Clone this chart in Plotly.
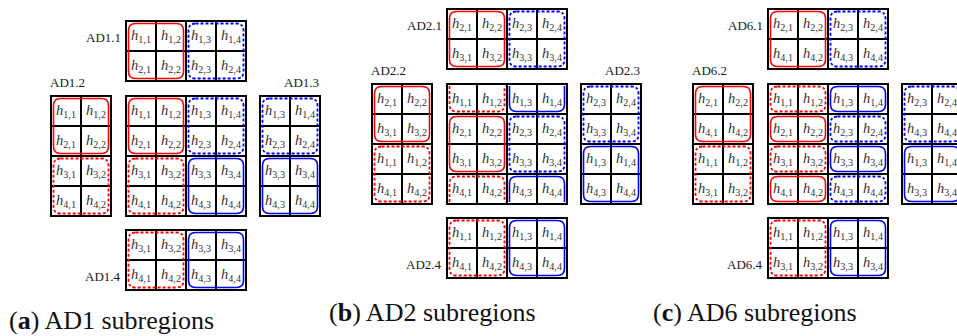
import plotly.graph_objects as go

# ---- data -------------------------------------------------------------
PANEL_NAMES = ["AD1", "AD2", "AD6"]
PANEL_LETTERS = ["a", "b", "c"]
# the two row groups that make up the sub-regions of each scheme
ROW_PAIRS_AD1 = [[1, 2], [3, 4]]
ROW_PAIRS_AD2 = [[2, 3], [1, 4]]
ROW_PAIRS_AD6 = [[2, 4], [1, 3]]
# column groups (left half / right half of the channel matrix)
COL_PAIRS = [[1, 2], [3, 4]]
ALL_ROWS = [1, 2, 3, 4]
ALL_COLS = [1, 2, 3, 4]

ROW_PAIRS = [ROW_PAIRS_AD1, ROW_PAIRS_AD2, ROW_PAIRS_AD6]

# ---- layout (pixel-like data units, y grows downwards) ----------------
W, H = 957, 336
CELL = 30
GAP_TL = 15          # gap above / left of the main matrix
GAP_BR = 14          # gap below / right of the main matrix
PANEL_ORIGINS = [(126, 96), (447, 84), (768, 84)]
CAPTION_POS = [(7, 320), (327, 312), (651, 312)]

RED = "#ff0000"
BLUE = "#0000ff"
SERIF = "Liberation Serif"

fig = go.Figure()
shapes = []
annotations = []
tx, ty, tt = [], [], []


def rounded_rect(x0, y0, x1, y1, r):
    return (f"M{x0 + r},{y0} L{x1 - r},{y0} Q{x1},{y0} {x1},{y0 + r} "
            f"L{x1},{y1 - r} Q{x1},{y1} {x1 - r},{y1} L{x0 + r},{y1} "
            f"Q{x0},{y1} {x0},{y1 - r} L{x0},{y0 + r} Q{x0},{y0} {x0 + r},{y0} Z")


def open_top(x0, ytop, x1, y1, r):
    return (f"M{x0},{ytop} L{x0},{y1 - r} Q{x0},{y1} {x0 + r},{y1} "
            f"L{x1 - r},{y1} Q{x1},{y1} {x1},{y1 - r} L{x1},{ytop}")


def open_bottom(x0, y0, x1, ybot, r):
    return (f"M{x0},{ybot} L{x0},{y0 + r} Q{x0},{y0} {x0 + r},{y0} "
            f"L{x1 - r},{y0} Q{x1},{y0} {x1},{y0 + r} L{x1},{ybot}")


def add_path(path, color, dashed):
    shapes.append(dict(
        type="path", path=path, xref="x", yref="y",
        line=dict(color=color, width=1.8 if dashed else 1.6,
                  dash="3px,2px" if dashed else "solid"),
        fillcolor="rgba(0,0,0,0)", layer="above"))


def draw_grid(x0, y0, rows, cols):
    nr, nc = len(rows), len(cols)
    for i, r in enumerate(rows):
        for j, c in enumerate(cols):
            tx.append(x0 + (j + 0.5) * CELL)
            ty.append(y0 + (i + 0.5) * CELL)
            tt.append(f"<i>h</i><sub>{r},{c}</sub>")
    line = dict(color="black", width=2)
    for k in range(1, nr):
        shapes.append(dict(type="line", x0=x0, x1=x0 + nc * CELL,
                           y0=y0 + k * CELL, y1=y0 + k * CELL, line=line))
    for k in range(1, nc):
        shapes.append(dict(type="line", y0=y0, y1=y0 + nr * CELL,
                           x0=x0 + k * CELL, x1=x0 + k * CELL, line=line))
    shapes.append(dict(type="rect", x0=x0, x1=x0 + nc * CELL, y0=y0,
                       y1=y0 + nr * CELL, line=line))


def add_group(x0, y0, local_rows, c0, c1, n_rows, color, dashed):
    """Outline the cells of local_rows x [c0, c1] (0-based, inclusive)."""
    ins, rad = 2.5, 7
    gx0 = x0 + c0 * CELL + ins
    gx1 = x0 + (c1 + 1) * CELL - ins
    rows = sorted(local_rows)
    if rows[-1] - rows[0] == len(rows) - 1:
        add_path(rounded_rect(gx0, y0 + rows[0] * CELL + ins, gx1,
                              y0 + (rows[-1] + 1) * CELL - ins, rad), color, dashed)
    elif len(rows) == 2 and rows[0] == 0 and rows[1] == n_rows - 1:
        # group wraps around the matrix edge: open-ended outlines
        add_path(open_top(gx0, y0 + 2, gx1, y0 + CELL - ins, rad), color, dashed)
        add_path(open_bottom(gx0, y0 + (n_rows - 1) * CELL + ins, gx1,
                             y0 + n_rows * CELL - 2, rad), color, dashed)
    else:
        for r in rows:
            add_path(rounded_rect(gx0, y0 + r * CELL + ins, gx1,
                                  y0 + (r + 1) * CELL - ins, rad), color, dashed)


def style(p, q):
    return (RED if q == 0 else BLUE), ((p + q) % 2 == 1)


def label(x, y, text, anchor):
    annotations.append(dict(x=x, y=y, xref="x", yref="y", text=text,
                            showarrow=False, xanchor=anchor, yanchor="middle",
                            font=dict(family=SERIF, size=13, color="#1a1a1a")))


for name, letter, pairs, (cx, cy), (capx, capy) in zip(
        PANEL_NAMES, PANEL_LETTERS, ROW_PAIRS, PANEL_ORIGINS, CAPTION_POS):
    p0, p1 = pairs
    side_rows = p0 + p1

    # main matrix
    draw_grid(cx, cy, ALL_ROWS, ALL_COLS)
    for p, pr in enumerate(pairs):
        for q, cp in enumerate(COL_PAIRS):
            col, dsh = style(p, q)
            add_group(cx, cy, [ALL_ROWS.index(r) for r in pr],
                      ALL_COLS.index(cp[0]), ALL_COLS.index(cp[1]), 4, col, dsh)

    # .1 : first row group, all columns (above)
    tx0, ty0 = cx, cy - 2 * CELL - GAP_TL
    draw_grid(tx0, ty0, p0, ALL_COLS)
    for q, cp in enumerate(COL_PAIRS):
        col, dsh = style(0, q)
        add_group(tx0, ty0, [0, 1], ALL_COLS.index(cp[0]), ALL_COLS.index(cp[1]), 2, col, dsh)
    label(cx - 3, ty0 + CELL * 0.5 + 1, f"{name}.1", "right")

    # .2 : both row groups, left columns
    lx0, ly0 = cx - 2 * CELL - GAP_TL, cy
    draw_grid(lx0, ly0, side_rows, COL_PAIRS[0])
    for p in range(2):
        col, dsh = style(p, 0)
        add_group(lx0, ly0, [2 * p, 2 * p + 1], 0, 1, 4, col, dsh)
    label(lx0 - 3, cy - 14, f"{name}.2", "left")

    # .3 : both row groups, right columns
    rx0, ry0 = cx + 4 * CELL + GAP_BR, cy
    draw_grid(rx0, ry0, side_rows, COL_PAIRS[1])
    for p in range(2):
        col, dsh = style(p, 1)
        add_group(rx0, ry0, [2 * p, 2 * p + 1], 0, 1, 4, col, dsh)
    label(rx0 + 2 * CELL + 1, cy - 14, f"{name}.3", "right")

    # .4 : second row group, all columns (below)
    bx0, by0 = cx, cy + 4 * CELL + GAP_BR
    draw_grid(bx0, by0, p1, ALL_COLS)
    for q, cp in enumerate(COL_PAIRS):
        col, dsh = style(1, q)
        add_group(bx0, by0, [0, 1], ALL_COLS.index(cp[0]), ALL_COLS.index(cp[1]), 2, col, dsh)
    label(cx - 3, by0 + CELL * 1.5 + 1, f"{name}.4", "right")

    annotations.append(dict(
        x=capx, y=capy, xref="x", yref="y", showarrow=False,
        xanchor="left", yanchor="middle",
        text=f"(<b>{letter}</b>) {name} subregions",
        font=dict(family=SERIF, size=26, color="#111")))

fig.add_trace(go.Scatter(
    x=tx, y=ty, text=tt, mode="text", textposition="middle center",
    textfont=dict(family=SERIF, size=14.5, color="#333"),
    hoverinfo="skip", showlegend=False))

fig.update_layout(
    width=W, height=H, autosize=False,
    margin=dict(l=0, r=0, t=0, b=0, pad=0),
    paper_bgcolor="white", plot_bgcolor="white",
    xaxis=dict(range=[0, W], visible=False, fixedrange=True),
    yaxis=dict(range=[H, 0], visible=False, fixedrange=True),
    shapes=shapes, annotations=annotations, showlegend=False)

fig.write_html("out.html")
